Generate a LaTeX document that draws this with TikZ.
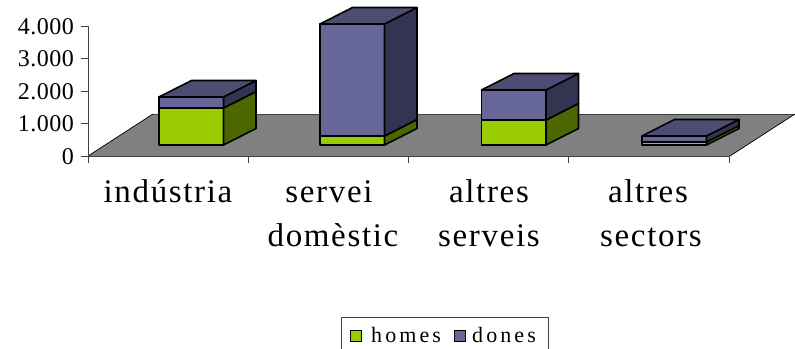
\documentclass[tikz,border=0pt]{standalone}
\usepackage{fontspec}
\setmainfont{Liberation Serif}
\newfontfamily\catfont[LetterSpace=5]{Liberation Serif}
\newfontfamily\legfont[LetterSpace=14]{Liberation Serif}
\newfontfamily\axfont[LetterSpace=2]{Liberation Serif}
\definecolor{hf}{HTML}{99CC00}
\definecolor{hs}{HTML}{4C6600}
\definecolor{df}{HTML}{666699}
\definecolor{ds}{HTML}{333352}
\definecolor{dt}{HTML}{4D4D74}
\definecolor{floorc}{HTML}{808080}
\tikzset{
  boxface/.style={draw=black,line width=1.6pt,line join=round},
  axisline/.style={draw=black!75,line width=0.9pt},
  ylab/.style={anchor=base east,inner sep=0pt,font=\axfont\fontsize{24}{27}\selectfont},
  catlab/.style={anchor=base,inner sep=0pt,font=\catfont\fontsize{33}{37}\selectfont},
  leglab/.style={anchor=base west,inner sep=0pt,font=\legfont\fontsize{22}{25}\selectfont},
  legmark/.style={draw=black,line width=1.2pt,minimum size=11pt,inner sep=0pt}
}
\newcommand\cbox[4]{%
  \pgfmathsetmacro\xr{#1+#4}%
  \filldraw[boxface,fill=hf] (#1,145) rectangle (\xr,#2);
  \filldraw[boxface,fill=hs] (\xr,145) -- (\xr+32.5,128.5) -- (\xr+32.5,#2-16.5) -- (\xr,#2) -- cycle;
  \filldraw[boxface,fill=df] (#1,#2) rectangle (\xr,#3);
  \filldraw[boxface,fill=ds] (\xr,#2) -- (\xr+32.5,#2-16.5) -- (\xr+32.5,#3-16.5) -- (\xr,#3) -- cycle;
  \filldraw[boxface,fill=dt] (#1,#3) -- (#1+32.5,#3-16.5) -- (\xr+32.5,#3-16.5) -- (\xr,#3) -- cycle;
}
\begin{document}
\begin{tikzpicture}[x=1pt,y=-1pt]
\useasboundingbox (0,0) rectangle (795,348);
% floor
\fill[floorc] (88,156) -- (730,156) -- (795,114) -- (153,114) -- cycle;
\draw[black!75,line width=0.9pt] (153,114) -- (795,114);
\draw[black,line width=0.7pt] (88,156) -- (153,114);
\draw[black,line width=0.7pt] (730,156) -- (795,114);
\draw[axisline] (88,156) -- (730,156);
% y axis
\draw[axisline] (88,26) -- (88,156);
\foreach \yy in {26,58.5,91,123.5,156} \draw[axisline] (81,\yy) -- (88,\yy);
\foreach \xx in {88,248.25,408.5,568.75,729} \draw[axisline] (\xx,156) -- (\xx,163);
\node[ylab] (y4) at (74,34) {4.000};
\node[ylab] (y3) at (74,66.5) {3.000};
\node[ylab] (y2) at (74,99) {2.000};
\node[ylab] (y1) at (74,131.5) {1.000};
\node[ylab] (y0) at (74,164) {0};
% boxes
\cbox{159}{108}{97}{64.5}
\cbox{320}{136}{24}{64.5}
\cbox{481.5}{120}{90}{64.5}
\cbox{642}{142}{136}{64.5}
% category labels
\node[catlab] (c1) at (168,202) {indústria};
\node[catlab] (c2a) at (329,202) {servei};
\node[catlab] (c2b) at (333,246) {domèstic};
\node[catlab] (c3a) at (489,202) {altres};
\node[catlab] (c3b) at (489,246) {serveis};
\node[catlab] (c4a) at (648,202) {altres};
\node[catlab] (c4b) at (651,246) {sectors};
% legend
\draw[black!75,line width=0.9pt] (341,360) -- (341,317) -- (548,317) -- (548,360);
\node[legmark,fill=hf] (mh) at (356,336) {};
\node[leglab] (lh) at (371,342) {homes};
\node[legmark,fill=df] (md) at (460,336) {};
\node[leglab] (ld) at (472,342) {dones};
\end{tikzpicture}
\end{document}
